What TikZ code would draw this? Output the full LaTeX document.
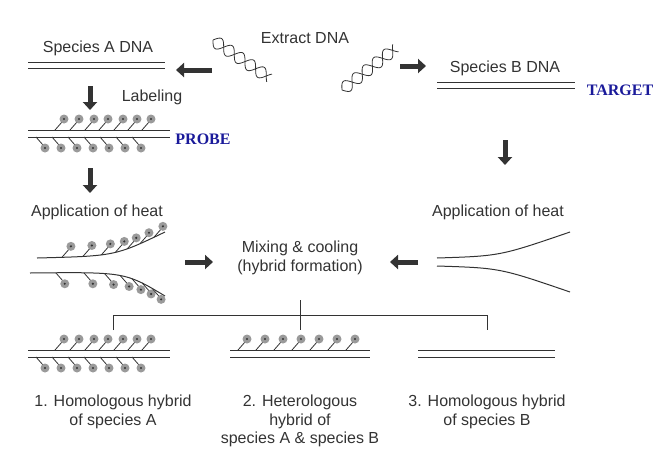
\documentclass[tikz,border=0pt]{standalone}
\usepackage{fontspec}
\setmainfont{Liberation Sans}
\newfontfamily\labelserif{Liberation Serif}
\usetikzlibrary{arrows.meta, positioning}

\definecolor{ink}{HTML}{333333}
\definecolor{tagfill}{HTML}{9A9A9A}
\definecolor{labelblue}{HTML}{1A1A9A}

\tikzset{
  strand/.style={draw=ink, line width=1pt},
  lbl/.style={text=ink, font=\fontsize{16}{18.5}\selectfont, align=center},
  tagname/.style={text=labelblue, font=\labelserif\bfseries\fontsize{16}{18}\selectfont},
  blockarr/.style={draw=ink, line width=5pt, -{Triangle[length=8pt, width=14pt]}},
  uptag/.pic={
    \draw[ink, line width=0.8pt] (0,0) -- (7,-8);
    \fill[tagfill] (9,-11) circle (4.5);
    \fill[ink] (9,-11) circle (1.2);
  },
  downtag/.pic={
    \draw[ink, line width=0.8pt] (0,0) -- (7,8);
    \fill[tagfill] (9,11) circle (4.5);
    \fill[ink] (9,11) circle (1.2);
  }
}

\begin{document}
\begin{tikzpicture}[x=1pt, y=-1pt]
\useasboundingbox (0,0) rectangle (670,475);

% source DNA and extraction
\node[lbl] (spA) at (98,48) {Species A DNA};
\draw[strand] (28,62) -- (165,62) (28,68) -- (165,68);
\node[lbl] (extract) at (305,38) {Extract DNA};
\node[lbl] (spB) at (505,68) {Species B DNA};
\draw[strand] (437,82) -- (575,82) (437,88) -- (575,88);
\node[tagname] (target) at (620,90) {TARGET};

% helices
\begin{scope}[shift={(213,40)}, rotate=-34]
  \draw[ink, line width=0.8pt] plot[domain=0:68, samples=90] (\x,{6*sin(\x*14)});
  \draw[ink, line width=0.8pt] plot[domain=0:68, samples=90] (\x,{-6*sin(\x*14)});
\end{scope}
\begin{scope}[shift={(342,90)}, rotate=38]
  \draw[ink, line width=0.8pt] plot[domain=0:68, samples=90] (\x,{6*sin(\x*14)});
  \draw[ink, line width=0.8pt] plot[domain=0:68, samples=90] (\x,{-6*sin(\x*14)});
\end{scope}

\coordinate (a1s) at (212,70); \coordinate (a1e) at (176,70);
\coordinate (a2s) at (400,66); \coordinate (a2e) at (426,66);
\draw[blockarr] (a1s) -- (a1e);
\draw[blockarr] (a2s) -- (a2e);

% labeling
\coordinate (d1s) at (90,86); \coordinate (d1e) at (90,110);
\draw[blockarr] (d1s) -- (d1e);
\node[lbl] (labeling) at (152,97) {Labeling};

% probe
\draw[strand] (28,130) -- (170,130) (28,137) -- (170,137);
\foreach \x in {55,70,85,99,114,128,142} \pic at (\x,130) {uptag};
\foreach \x in {36,52,68,84,100,116,132} \pic at (\x,137) {downtag};
\node[tagname] (probe) at (203,139) {PROBE};

\coordinate (d2s) at (90,168); \coordinate (d2e) at (90,193);
\draw[blockarr] (d2s) -- (d2e);
\coordinate (d3s) at (505,140); \coordinate (d3e) at (505,165);
\draw[blockarr] (d3s) -- (d3e);

\node[lbl] (heatA) at (97,212) {Application of heat};
\node[lbl] (heatB) at (498,212) {Application of heat};

% denatured probe
\draw[strand] (37,258) .. controls (115,256) .. (165,232)
  coordinate[pos=0.12] (u1) coordinate[pos=0.25] (u2) coordinate[pos=0.40] (u3)
  coordinate[pos=0.54] (u4) coordinate[pos=0.67] (u5) coordinate[pos=0.80] (u6)
  coordinate[pos=0.92] (u7);
\foreach \i in {1,...,7} \pic at (u\i) {uptag};
\draw[strand] (30,273) .. controls (125,272) .. (165,296)
  coordinate[pos=0.10] (l1) coordinate[pos=0.24] (l2) coordinate[pos=0.38] (l3)
  coordinate[pos=0.52] (l4) coordinate[pos=0.65] (l5) coordinate[pos=0.77] (l6)
  coordinate[pos=0.88] (l7);
\foreach \i in {1,...,7} \pic at (l\i) {downtag};

% denatured target
\draw[strand] (437,258) .. controls (500,256) .. (570,232);
\draw[strand] (437,266) .. controls (500,268) .. (570,292);

\node[lbl] (mix) at (300,258) {Mixing \& cooling\\(hybrid formation)};
\coordinate (m1s) at (185,262); \coordinate (m1e) at (213,262);
\draw[blockarr] (m1s) -- (m1e);
\coordinate (m2s) at (418,262); \coordinate (m2e) at (390,262);
\draw[blockarr] (m2s) -- (m2e);

% branching
\coordinate (br) at (300,300);
\draw[ink, line width=0.8pt] (br) -- (300,330) (113,330) -- (113,315) -- (487,315) -- (487,330);

% hybrid 1
\draw[strand] (28,350) -- (170,350) (28,357) -- (170,357);
\foreach \x in {55,70,85,99,114,128,142} \pic at (\x,350) {uptag};
\foreach \x in {36,52,68,84,100,116,132} \pic at (\x,357) {downtag};
% hybrid 2
\draw[strand] (230,350) -- (370,350) (230,357) -- (370,357);
\foreach \x in {238,256,274,292,310,328,346} \pic at (\x,350) {uptag};
% hybrid 3
\draw[strand] (418,350) -- (555,350) (418,357) -- (555,357);

\node[lbl] (h1) at (113,412) {1. Homologous hybrid\\of species A};
\node[lbl] (h2) at (300,421) {2. Heterologous\\hybrid of\\species A \& species B};
\node[lbl] (h3) at (487,412) {3. Homologous hybrid\\of species B};
\end{tikzpicture}
\end{document}
